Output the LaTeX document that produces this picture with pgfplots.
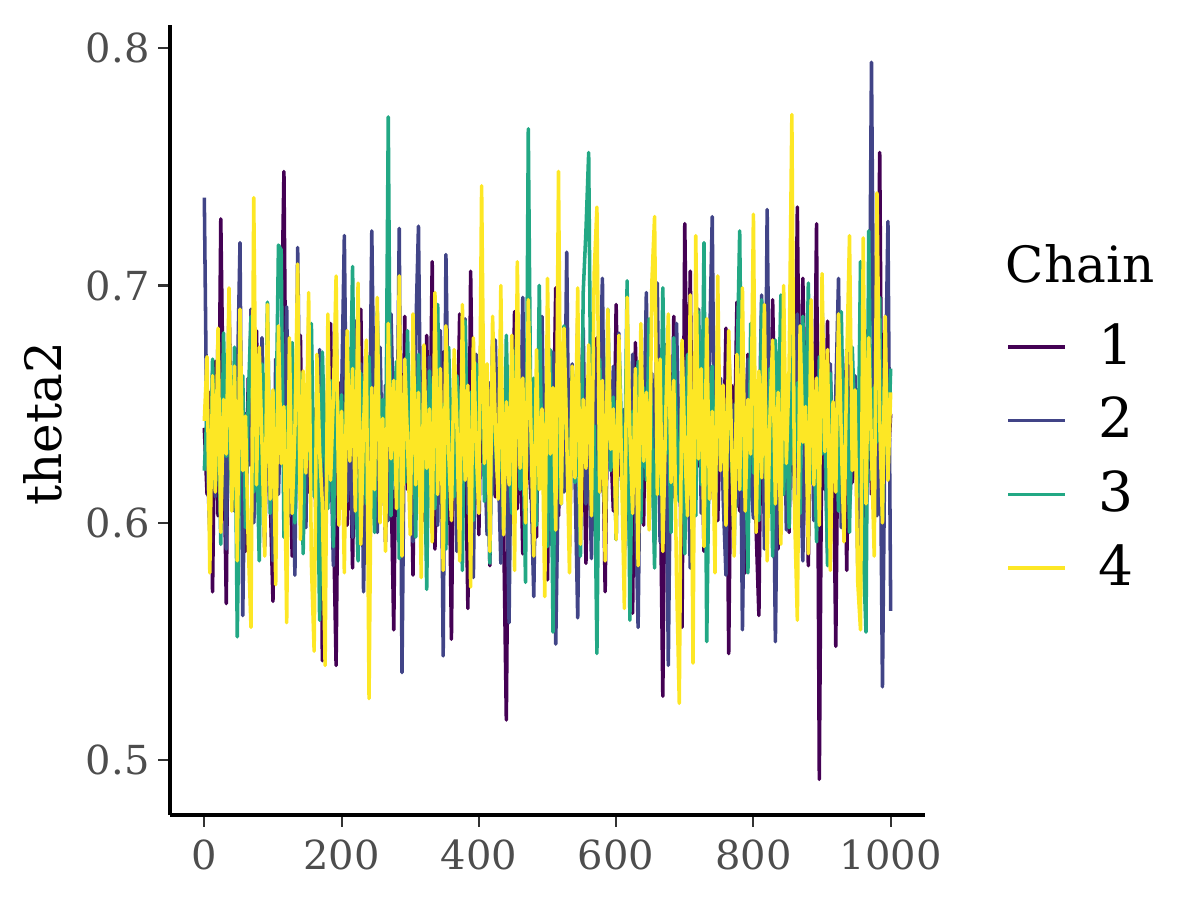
\documentclass[border=0pt]{standalone}
\usepackage{fontspec}
\setmainfont{DejaVu Serif}
\usepackage{pgfplots}
\usepackage{pgfplotstable}
\pgfplotsset{compat=1.18}
\definecolor{cA}{HTML}{440154}
\definecolor{cB}{HTML}{414487}
\definecolor{cC}{HTML}{22A884}
\definecolor{cD}{HTML}{FDE725}
\definecolor{tickgray}{HTML}{4D4D4D}
\definecolor{gray20}{HTML}{333333}

\pgfplotstableread[row sep=\\, header=false]{
0.640\\0.612\\0.655\\0.571\\0.668\\0.603\\0.728\\0.642\\0.566\\0.695\\
0.618\\0.652\\0.597\\0.676\\0.629\\0.588\\0.661\\0.634\\0.602\\0.681\\
0.623\\0.649\\0.590\\0.667\\0.611\\0.567\\0.653\\0.628\\0.674\\0.748\\
0.605\\0.641\\0.586\\0.662\\0.620\\0.679\\0.598\\0.645\\0.613\\0.658\\
0.627\\0.593\\0.671\\0.542\\0.636\\0.617\\0.684\\0.603\\0.540\\0.659\\
0.631\\0.672\\0.599\\0.644\\0.581\\0.666\\0.621\\0.690\\0.608\\0.639\\
0.585\\0.657\\0.626\\0.683\\0.604\\0.648\\0.592\\0.675\\0.619\\0.555\\
0.662\\0.633\\0.596\\0.687\\0.614\\0.651\\0.578\\0.669\\0.625\\0.643\\
0.601\\0.679\\0.617\\0.710\\0.589\\0.655\\0.630\\0.672\\0.598\\0.646\\
0.551\\0.664\\0.622\\0.688\\0.607\\0.641\\0.564\\0.706\\0.618\\0.653\\
0.595\\0.670\\0.628\\0.649\\0.582\\0.677\\0.611\\0.638\\0.662\\0.600\\
0.517\\0.651\\0.624\\0.689\\0.606\\0.643\\0.587\\0.668\\0.632\\0.610\\
0.657\\0.594\\0.681\\0.619\\0.646\\0.576\\0.664\\0.628\\0.699\\0.603\\
0.639\\0.616\\0.673\\0.590\\0.655\\0.622\\0.684\\0.609\\0.647\\0.583\\
0.661\\0.627\\0.597\\0.678\\0.613\\0.650\\0.571\\0.669\\0.634\\0.605\\
0.692\\0.620\\0.645\\0.586\\0.663\\0.612\\0.562\\0.676\\0.631\\0.654\\
0.599\\0.682\\0.618\\0.644\\0.591\\0.670\\0.625\\0.527\\0.659\\0.636\\
0.604\\0.687\\0.615\\0.648\\0.556\\0.726\\0.630\\0.706\\0.593\\0.661\\
0.624\\0.652\\0.588\\0.675\\0.610\\0.639\\0.667\\0.601\\0.646\\0.619\\
0.682\\0.545\\0.658\\0.627\\0.693\\0.605\\0.643\\0.579\\0.671\\0.616\\
0.650\\0.597\\0.561\\0.680\\0.622\\0.655\\0.608\\0.694\\0.633\\0.589\\
0.664\\0.618\\0.647\\0.596\\0.676\\0.629\\0.733\\0.611\\0.703\\0.640\\
0.582\\0.668\\0.621\\0.726\\0.492\\0.657\\0.614\\0.685\\0.600\\0.644\\
0.548\\0.672\\0.626\\0.651\\0.580\\0.690\\0.617\\0.646\\0.603\\0.665\\
0.629\\0.594\\0.677\\0.612\\0.658\\0.636\\0.756\\0.591\\0.669\\0.624\\
0.646\\
}\chainA

\pgfplotstableread[row sep=\\, header=false]{
0.737\\0.628\\0.596\\0.664\\0.611\\0.680\\0.619\\0.651\\0.589\\0.672\\
0.634\\0.605\\0.657\\0.718\\0.561\\0.646\\0.624\\0.690\\0.600\\0.661\\
0.615\\0.678\\0.593\\0.647\\0.631\\0.584\\0.669\\0.612\\0.655\\0.627\\
0.691\\0.603\\0.642\\0.578\\0.716\\0.620\\0.660\\0.598\\0.683\\0.614\\
0.648\\0.590\\0.673\\0.626\\0.605\\0.663\\0.637\\0.582\\0.676\\0.618\\
0.652\\0.721\\0.609\\0.640\\0.594\\0.685\\0.623\\0.667\\0.571\\0.645\\
0.613\\0.723\\0.630\\0.596\\0.674\\0.619\\0.658\\0.601\\0.688\\0.636\\
0.610\\0.724\\0.537\\0.662\\0.627\\0.649\\0.592\\0.679\\0.725\\0.615\\
0.643\\0.586\\0.670\\0.621\\0.654\\0.599\\0.681\\0.544\\0.713\\0.632\\
0.607\\0.665\\0.588\\0.650\\0.625\\0.686\\0.604\\0.641\\0.577\\0.671\\
0.618\\0.700\\0.633\\0.595\\0.659\\0.612\\0.677\\0.628\\0.583\\0.656\\
0.639\\0.558\\0.668\\0.609\\0.645\\0.624\\0.695\\0.601\\0.662\\0.617\\
0.569\\0.653\\0.630\\0.687\\0.606\\0.644\\0.591\\0.672\\0.549\\0.626\\
0.658\\0.613\\0.714\\0.598\\0.667\\0.621\\0.560\\0.649\\0.682\\0.608\\
0.636\\0.585\\0.674\\0.617\\0.655\\0.703\\0.597\\0.642\\0.626\\0.666\\
0.593\\0.680\\0.615\\0.648\\0.629\\0.588\\0.671\\0.610\\0.556\\0.657\\
0.634\\0.697\\0.602\\0.663\\0.620\\0.701\\0.592\\0.647\\0.675\\0.540\\
0.653\\0.611\\0.684\\0.625\\0.600\\0.668\\0.637\\0.581\\0.659\\0.616\\
0.690\\0.604\\0.645\\0.628\\0.672\\0.729\\0.596\\0.641\\0.661\\0.610\\
0.578\\0.677\\0.623\\0.650\\0.607\\0.686\\0.555\\0.643\\0.669\\0.619\\
0.602\\0.656\\0.634\\0.696\\0.589\\0.732\\0.625\\0.661\\0.550\\0.648\\
0.614\\0.679\\0.597\\0.640\\0.663\\0.608\\0.688\\0.631\\0.584\\0.657\\
0.622\\0.676\\0.601\\0.644\\0.612\\0.692\\0.635\\0.587\\0.667\\0.619\\
0.654\\0.703\\0.598\\0.641\\0.673\\0.606\\0.629\\0.662\\0.583\\0.650\\
0.615\\0.681\\0.634\\0.794\\0.645\\0.603\\0.668\\0.531\\0.652\\0.727\\
0.563\\
}\chainB

\pgfplotstableread[row sep=\\, header=false]{
0.622\\0.648\\0.603\\0.669\\0.615\\0.657\\0.591\\0.680\\0.628\\0.646\\
0.609\\0.674\\0.552\\0.636\\0.662\\0.598\\0.651\\0.687\\0.613\\0.640\\
0.584\\0.667\\0.625\\0.693\\0.604\\0.655\\0.631\\0.717\\0.715\\0.594\\
0.649\\0.618\\0.676\\0.600\\0.642\\0.663\\0.587\\0.658\\0.627\\0.684\\
0.611\\0.646\\0.559\\0.672\\0.629\\0.606\\0.660\\0.590\\0.681\\0.623\\
0.654\\0.601\\0.676\\0.637\\0.708\\0.619\\0.584\\0.663\\0.641\\0.608\\
0.670\\0.626\\0.596\\0.689\\0.632\\0.652\\0.612\\0.771\\0.603\\0.645\\
0.668\\0.585\\0.639\\0.617\\0.681\\0.628\\0.657\\0.594\\0.671\\0.621\\
0.648\\0.572\\0.664\\0.636\\0.606\\0.692\\0.619\\0.650\\0.589\\0.674\\
0.630\\0.611\\0.662\\0.643\\0.580\\0.685\\0.622\\0.655\\0.601\\0.667\\
0.624\\0.695\\0.609\\0.645\\0.583\\0.671\\0.633\\0.616\\0.660\\0.597\\
0.679\\0.627\\0.604\\0.651\\0.688\\0.614\\0.640\\0.575\\0.766\\0.631\\
0.661\\0.599\\0.700\\0.620\\0.646\\0.590\\0.673\\0.554\\0.657\\0.626\\
0.608\\0.683\\0.635\\0.596\\0.664\\0.617\\0.650\\0.586\\0.697\\0.723\\
0.756\\0.613\\0.641\\0.545\\0.669\\0.628\\0.604\\0.690\\0.622\\0.653\\
0.593\\0.676\\0.639\\0.610\\0.702\\0.559\\0.647\\0.625\\0.668\\0.600\\
0.657\\0.618\\0.686\\0.634\\0.581\\0.663\\0.612\\0.699\\0.629\\0.648\\
0.596\\0.678\\0.637\\0.609\\0.660\\0.587\\0.671\\0.624\\0.651\\0.603\\
0.689\\0.616\\0.718\\0.550\\0.642\\0.666\\0.598\\0.681\\0.627\\0.655\\
0.606\\0.673\\0.632\\0.590\\0.662\\0.723\\0.614\\0.646\\0.579\\0.684\\
0.621\\0.658\\0.601\\0.694\\0.630\\0.611\\0.665\\0.586\\0.677\\0.639\\
0.696\\0.612\\0.650\\0.598\\0.681\\0.625\\0.659\\0.604\\0.687\\0.633\\
0.701\\0.617\\0.645\\0.592\\0.670\\0.629\\0.656\\0.582\\0.663\\0.619\\
0.648\\0.605\\0.689\\0.627\\0.661\\0.596\\0.674\\0.640\\0.611\\0.710\\
0.588\\0.554\\0.723\\0.618\\0.657\\0.634\\0.695\\0.602\\0.666\\0.626\\
0.665\\
}\chainC

\pgfplotstableread[row sep=\\, header=false]{
0.643\\0.670\\0.579\\0.662\\0.613\\0.682\\0.596\\0.652\\0.629\\0.699\\
0.605\\0.666\\0.584\\0.690\\0.622\\0.645\\0.591\\0.556\\0.737\\0.616\\
0.674\\0.634\\0.586\\0.692\\0.610\\0.656\\0.574\\0.683\\0.625\\0.649\\
0.558\\0.678\\0.604\\0.639\\0.709\\0.593\\0.664\\0.621\\0.697\\0.583\\
0.546\\0.671\\0.630\\0.608\\0.540\\0.688\\0.618\\0.653\\0.704\\0.599\\
0.647\\0.579\\0.681\\0.626\\0.665\\0.605\\0.701\\0.591\\0.640\\0.677\\
0.526\\0.657\\0.614\\0.695\\0.600\\0.644\\0.588\\0.684\\0.627\\0.660\\
0.606\\0.704\\0.586\\0.669\\0.635\\0.595\\0.688\\0.616\\0.655\\0.577\\
0.675\\0.623\\0.648\\0.592\\0.697\\0.612\\0.665\\0.580\\0.683\\0.630\\
0.601\\0.673\\0.642\\0.584\\0.692\\0.618\\0.658\\0.573\\0.678\\0.632\\
0.604\\0.742\\0.625\\0.667\\0.588\\0.687\\0.640\\0.610\\0.700\\0.595\\
0.651\\0.616\\0.679\\0.580\\0.710\\0.623\\0.661\\0.600\\0.694\\0.638\\
0.586\\0.673\\0.614\\0.648\\0.569\\0.703\\0.629\\0.657\\0.597\\0.748\\
0.608\\0.682\\0.636\\0.579\\0.666\\0.619\\0.699\\0.591\\0.652\\0.623\\
0.675\\0.603\\0.705\\0.733\\0.613\\0.660\\0.584\\0.690\\0.631\\0.648\\
0.593\\0.679\\0.622\\0.564\\0.695\\0.638\\0.604\\0.665\\0.582\\0.684\\
0.626\\0.655\\0.597\\0.701\\0.729\\0.612\\0.669\\0.588\\0.642\\0.688\\
0.617\\0.660\\0.577\\0.524\\0.677\\0.632\\0.603\\0.696\\0.541\\0.721\\
0.627\\0.665\\0.590\\0.686\\0.610\\0.647\\0.579\\0.704\\0.622\\0.658\\
0.599\\0.681\\0.636\\0.586\\0.671\\0.614\\0.699\\0.605\\0.652\\0.629\\
0.730\\0.596\\0.664\\0.619\\0.692\\0.584\\0.644\\0.677\\0.608\\0.655\\
0.591\\0.700\\0.625\\0.665\\0.772\\0.604\\0.559\\0.683\\0.634\\0.649\\
0.587\\0.694\\0.616\\0.661\\0.599\\0.705\\0.630\\0.673\\0.580\\0.651\\
0.613\\0.688\\0.636\\0.592\\0.668\\0.721\\0.622\\0.656\\0.575\\0.555\\
0.720\\0.608\\0.678\\0.631\\0.586\\0.739\\0.643\\0.600\\0.687\\0.618\\
0.655\\
}\chainD

\begin{document}
\begin{tikzpicture}
\useasboundingbox (-40.8pt,-20.4pt) rectangle (247.2pt,195.6pt);
\begin{axis}[
  scale only axis, width=181.2pt, height=189.6pt,
  xmin=-50, xmax=1050, ymin=0.477, ymax=0.8097,
  axis lines=left, axis line style={-, line width=0.8pt, black},
  xtick={0,200,400,600,800,1000}, ytick={0.5,0.6,0.7,0.8},
  tick align=outside, major tick length=2.76pt,
  every tick/.style={line width=0.5pt, color=gray20},
  ticklabel style={font=\fontsize{9.6}{11}\selectfont, text=tickgray},
  /pgf/number format/assume math mode=true,
  x tick label style={/pgf/number format/1000 sep={}, yshift=0.4pt},
  y tick label style={/pgf/number format/.cd, fixed, fixed zerofill, precision=1, /tikz/xshift=1.4pt},
  ylabel={theta2},
  ylabel style={font=\fontsize{12}{14}\selectfont, at={(axis description cs:-0.168,0.495)}, anchor=center},
  legend style={at={(axis description cs:1.090,0.634)}, anchor=north west, draw=none, fill=none,
    font=\fontsize{13.2}{15}\selectfont, row sep=6.4pt, nodes={inner sep=0pt},
    /tikz/every odd column/.append style={column sep=7.6pt}},
  legend cell align=left,
  legend image code/.code={\draw[#1] (0pt,0pt) -- (13.7pt,0pt);},
  every axis plot/.append style={line width=0.85pt, line join=round},
]
\addplot[cA] table[x expr=\coordindex*4, y index=0] {\chainA};
\addlegendentry{1}
\addplot[cB] table[x expr=\coordindex*4, y index=0] {\chainB};
\addlegendentry{2}
\addplot[cC] table[x expr=\coordindex*4, y index=0] {\chainC};
\addlegendentry{3}
\addplot[cD] table[x expr=\coordindex*4, y index=0] {\chainD};
\addlegendentry{4}
\end{axis}
\node[anchor=base west, font=\fontsize{12}{14}\selectfont, inner sep=0pt] at (200.4pt,127.7pt) {Chain};
\end{tikzpicture}
\end{document}
